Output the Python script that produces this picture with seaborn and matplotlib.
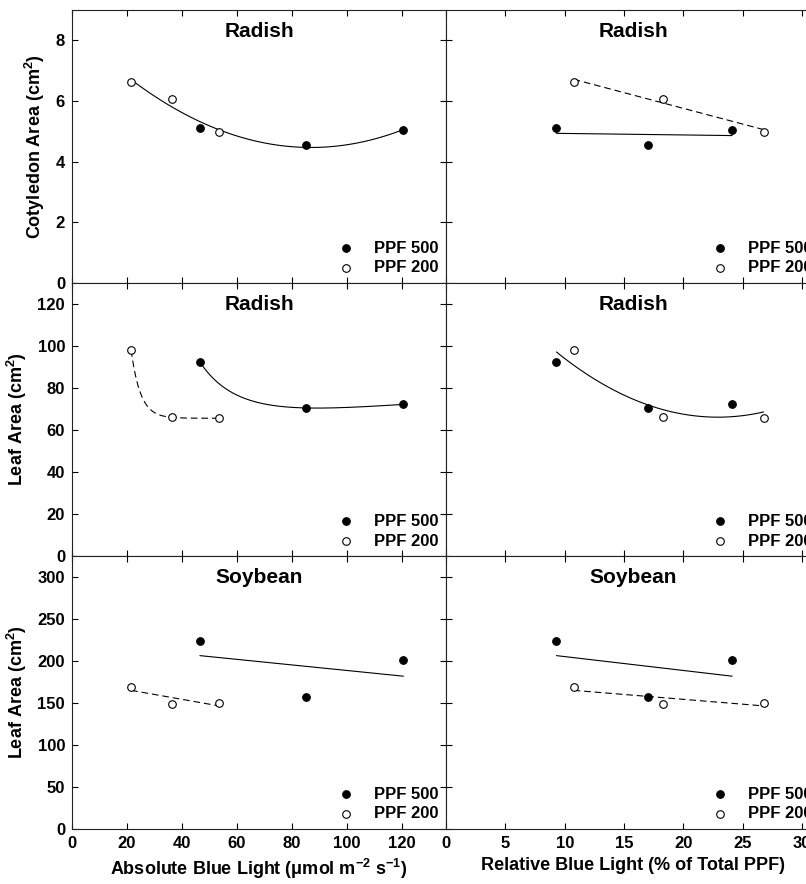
import numpy as np
import matplotlib
matplotlib.use("Agg")
import matplotlib.pyplot as plt
import seaborn as sns

# blue light levels, same treatments seen as absolute and relative dose
abs_500 = [46.5, 85.0, 120.5]
abs_200 = [21.5, 36.5, 53.5]
rel_500 = [9.3, 17.0, 24.1]
rel_200 = [10.75, 18.25, 26.75]

# responses (same values in the left and right columns)
cot_500 = [5.10, 4.55, 5.04]
cot_200 = [6.64, 6.08, 4.99]
radish_leaf_500 = [92.4, 70.5, 72.2]
radish_leaf_200 = [98.0, 66.0, 65.6]
soy_leaf_500 = [224, 157, 201]
soy_leaf_200 = [169, 149, 150]

row_titles = ["Radish", "Radish", "Soybean"]
row_ylabels = ["Cotyledon Area (cm$^{2}$)", "Leaf Area (cm$^{2}$)", "Leaf Area (cm$^{2}$)"]
row_ylims = [(0, 9), (0, 130), (0, 325)]
row_yticks = [np.arange(0, 9, 2), np.arange(0, 121, 20), np.arange(0, 301, 50)]
row_y500 = [cot_500, radish_leaf_500, soy_leaf_500]
row_y200 = [cot_200, radish_leaf_200, soy_leaf_200]
# fit used for each panel: "pool2" = one quadratic through both PPF,
# otherwise (fit for PPF 500, fit for PPF 200)
row_fits = [
    ["pool2", (1, 1)],
    [("inv", "exp"), "pool2"],
    [(1, 1), (1, 1)],
]

sns.set_theme(style="ticks")
plt.rcParams["font.family"] = ["Liberation Sans", "DejaVu Sans"]
plt.rcParams["font.weight"] = "bold"
plt.rcParams["axes.labelweight"] = "bold"
plt.rcParams["text.color"] = "black"
plt.rcParams["axes.labelcolor"] = "black"
plt.rcParams["mathtext.fontset"] = "custom"
plt.rcParams["mathtext.rm"] = "Liberation Sans:bold"
plt.rcParams["mathtext.bf"] = "Liberation Sans:bold"
plt.rcParams["mathtext.default"] = "bf"


def exp_decay(x, y, xs):
    # y = c + a*exp(-b*(x - x0)), best b by scanning
    x0 = x.min()
    best = None
    for b in np.linspace(0.005, 1.0, 2000):
        A = np.column_stack([np.ones_like(x), np.exp(-b * (x - x0))])
        coef = np.linalg.lstsq(A, y, rcond=None)[0]
        r = np.sum((A @ coef - y) ** 2)
        if best is None or r < best[0]:
            best = (r, b, coef)
    _, b, coef = best
    return coef[0] + coef[1] * np.exp(-b * (xs - x0))


def draw_fit(ax, x, y, kind, dashed):
    x = np.asarray(x, float)
    y = np.asarray(y, float)
    kw = dict(color="black", lw=0.8)
    if dashed:
        kw["dashes"] = (6, 3.5)
    if kind in (1, 2):
        sns.regplot(x=x, y=y, order=kind, ci=None, scatter=False,
                    truncate=True, ax=ax, line_kws=kw)
        return
    xs = np.linspace(x.min(), x.max(), 200)
    if kind == "exp":
        ys = exp_decay(x, y, xs)
    else:
        ys = np.polyval(np.polyfit(1 / x, y, 2), 1 / xs)
    ax.plot(xs, ys, **kw)


W, H = 806, 884
fig = plt.figure(figsize=(W / 100, H / 100), dpi=100)

col_x = [(abs_500, abs_200), (rel_500, rel_200)]
col_left = [72 / W, 446 / W]
col_w = 374 / W
row_bottom = [(884 - 283) / H, (884 - 556) / H, (884 - 829) / H]
row_h = 273 / H

for r in range(3):
    for c in range(2):
        ax = fig.add_axes([col_left[c], row_bottom[r], col_w, row_h])
        x500, x200 = col_x[c]
        y500, y200 = row_y500[r], row_y200[r]

        fit = row_fits[r][c]
        if fit == "pool2":
            draw_fit(ax, list(x500) + list(x200), list(y500) + list(y200), 2, False)
        else:
            draw_fit(ax, x500, y500, fit[0], False)
            draw_fit(ax, x200, y200, fit[1], True)

        sns.scatterplot(x=x500, y=y500, ax=ax, s=30, color="black",
                        edgecolor="black", linewidth=0.8, label="PPF 500", zorder=3)
        sns.scatterplot(x=x200, y=y200, ax=ax, s=30, color="white",
                        edgecolor="black", linewidth=0.8, label="PPF 200", zorder=3)

        ax.set_ylim(*row_ylims[r])
        ax.set_yticks(row_yticks[r])
        if c == 0:
            ax.set_xlim(0, 136)
            ax.set_xticks(np.arange(0, 121, 20))
            ax.set_ylabel(row_ylabels[r], fontsize=13, labelpad=6)
        else:
            ax.set_xlim(0, 31.5)
            ax.set_xticks(np.arange(0, 31, 5))
            ax.set_yticklabels([])
            ax.set_ylabel("")
        if r < 2:
            ax.set_xticklabels([])
        elif c == 0:
            ax.set_xlabel("Absolute Blue Light (μmol m$^{-2}$ s$^{-1}$)", fontsize=13, labelpad=4)
        else:
            ax.set_xlabel("Relative Blue Light (% of Total PPF)", fontsize=13, labelpad=4)

        ax.tick_params(direction="in", top=True, right=True, length=4, width=0.8,
                       labelsize=12, pad=5, colors="black")
        for s in ax.spines.values():
            s.set_linewidth(0.8)
            s.set_color("#222222")

        ax.text(0.5, 0.922, row_titles[r], transform=ax.transAxes, ha="center",
                va="center", fontsize=15, fontweight="bold")
        ax.legend(loc="lower right", frameon=False, prop={"weight": "bold", "size": 12},
                  handletextpad=0.95, labelspacing=0.28, borderaxespad=0.05,
                  handlelength=1.5)

fig.savefig("out.png", dpi=100)
